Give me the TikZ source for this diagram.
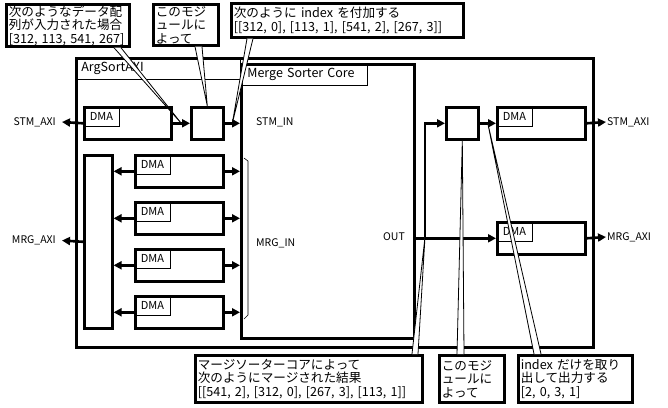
\documentclass[tikz,border=0pt]{standalone}
\usepackage{fontspec}
\setmainfont{Noto Sans CJK JP}
\usetikzlibrary{arrows.meta, positioning, calc}

\begin{document}
\begin{tikzpicture}[
    x=1pt, y=-1pt,
    >={Triangle[length=8pt, width=8pt]},
    blk/.style={
      draw, line width=2.6pt, anchor=north west, inner sep=0pt
    },
    tag/.style={
      draw, line width=0.7pt, anchor=north west, align=left,
      inner xsep=6pt, inner ysep=0pt, font=\fontsize{12.5}{13}\selectfont
    },
    dmatag/.style={
      draw, line width=0.7pt, anchor=north west, inner sep=0pt,
      minimum width=36pt, minimum height=20pt, font=\fontsize{11}{12}\selectfont
    },
    lbl/.style={inner sep=0pt, font=\fontsize{10.5}{12}\selectfont},
    arr/.style={->, line width=2.6pt},
    note/.style={
      draw, line width=2.6pt, fill=white, anchor=north west, align=left,
      inner xsep=2.5pt, inner ysep=1pt, font=\fontsize{12.6}{13.5}\selectfont
    },
    wedge/.style={draw, fill=white, line width=0.8pt}
  ]

  \fill[white] (0,0) rectangle (668,407);
  \useasboundingbox (0,0) rectangle (668,407);

  % ArgSortAXI and the core
  \node[blk, minimum width=517pt, minimum height=289pt] (argsort) at (75,57) {};
  \node[tag, text width=153pt, minimum height=22pt] (argtag) at (75,57) {ArgSortAXI};
  \node[blk, minimum width=173pt, minimum height=274pt] (core) at (240,63) {};
  \node[tag, text width=114pt, minimum height=21pt] (coretag) at (241,64) {Merge Sorter Core};

  % left side
  \node[blk, minimum width=87pt, minimum height=32pt] (dmaS) at (83,106) {};
  \node[dmatag] at (dmaS.north west) {DMA};
  \node[blk, minimum width=32pt, minimum height=32pt] (modL) at (190,106) {};
  \node[blk, minimum width=28pt, minimum height=173pt] (mux) at (83,154) {};

  \foreach \i/\y in {1/154, 2/201, 3/248, 4/295} {
    \node[blk, minimum width=88pt, minimum height=32pt] (dma\i) at (134,\y) {};
    \node[dmatag] at (dma\i.north west) {DMA};
    \draw[arr] (dma\i.west) -- (dma\i.west -| mux.east);
    \draw[arr] (dma\i.east) -- (dma\i.east -| core.west);
  }

  \node[lbl, anchor=east, inner xsep=6pt] (stmL) at (62,122) {STM\_AXI};
  \node[lbl, anchor=east, inner xsep=6pt] (mrgL) at (62,240.5) {MRG\_AXI};
  \draw[arr] (dmaS.west) -- (stmL.east);
  \draw[arr] (mux.west) -- (mrgL.east);
  \draw[arr] (dmaS.east) -- (modL.west);
  \draw[arr] (modL.east) -- (modL.east -| core.west);

  % core ports
  \node[lbl, anchor=west] (stmin) at (256,122) {STM\_IN};
  \node[lbl, anchor=west] (mrgin) at (256,243) {MRG\_IN};
  \node[lbl, anchor=east] (out) at (405,237) {OUT};
  \draw[line width=0.6pt] (244,158) -- (248,161) -- (248,315) -- (244,319);

  % right side
  \node[blk, minimum width=32pt, minimum height=32pt] (modR) at (445,106) {};
  \node[blk, minimum width=88pt, minimum height=32pt] (dmaRS) at (496,106) {};
  \node[dmatag] at (dmaRS.north west) {DMA};
  \node[blk, minimum width=88pt, minimum height=32pt] (dmaRM) at (496,221) {};
  \node[dmatag] at (dmaRM.north west) {DMA};
  \node[lbl, anchor=west, inner xsep=1pt] (stmR) at (606,122) {STM\_AXI};
  \node[lbl, anchor=west, inner xsep=1pt] (mrgR) at (606,237) {MRG\_AXI};
  \coordinate (split) at (425,237);

  \draw[arr] (dmaRM.west -| core.east) -- (dmaRM.west);
  \draw[arr] (split) |- (modR.west);
  \draw[arr] (modR.east) -- (dmaRS.west);
  \draw[arr] (dmaRS.east) -- (stmR.west);
  \draw[arr] (dmaRM.east) -- (mrgR.west);

  % callouts
  \node[note, text width=118pt, minimum height=41pt] (n1) at (5,3)
    {次のようなデータ配\\列が入力された場合\\\mbox{[312, 113, 541, 267]}};
  \node[note, text width=60pt, minimum height=41pt] (n2) at (152,3)
    {このモジ\\ュールに\\よって};
  \node[note, text width=227pt, minimum height=34pt] (n3) at (230,2)
    {次のように index を付加する\\\mbox{[[312, 0], [113, 1], [541, 2], [267, 3]]}};
  \node[note, text width=222pt, minimum height=47pt] (n4) at (194,354)
    {マージソーターコアによって\\次のようにマージされた結果\\\mbox{[[541, 2], [312, 0], [267, 3], [113, 1]]}};
  \node[note, text width=60pt, minimum height=47pt] (n5) at (438,354)
    {このモジ\\ュールに\\よって};
  \node[note, text width=109pt, minimum height=47pt] (n6) at (517,354)
    {index だけを取り\\出して出力する\\\mbox{[2, 0, 3, 1]}};

  \coordinate (t1) at ($(dmaS.east)!0.5!(modL.west)$);
  \coordinate (t3) at ($(modL.east)!0.5!(modL.east -| core.west)$);
  \coordinate (t6) at ($(modR.east)!0.5!(dmaRS.west)$);

  \draw[wedge] ($(n1.south west)+(109,0)$) -- (t1) -- ($(n1.south west)+(116,0)$);
  \draw[wedge] ($(n2.south west)+(43,0)$) -- (modL.north) -- ($(n2.south west)+(50,0)$);
  \draw[wedge] ($(n3.south west)+(17,0)$) -- (t3) -- ($(n3.south west)+(23,0)$);
  \draw[wedge] ($(n4.north west)+(218,0)$) -- (split) -- ($(n4.north west)+(224,0)$);
  \draw[wedge] ($(n5.north west)+(19,0)$) -- (modR.south) -- ($(n5.north west)+(26,0)$);
  \draw[wedge] ($(n6.north west)+(17,0)$) -- (t6) -- ($(n6.north west)+(24,0)$);

\end{tikzpicture}
\end{document}
